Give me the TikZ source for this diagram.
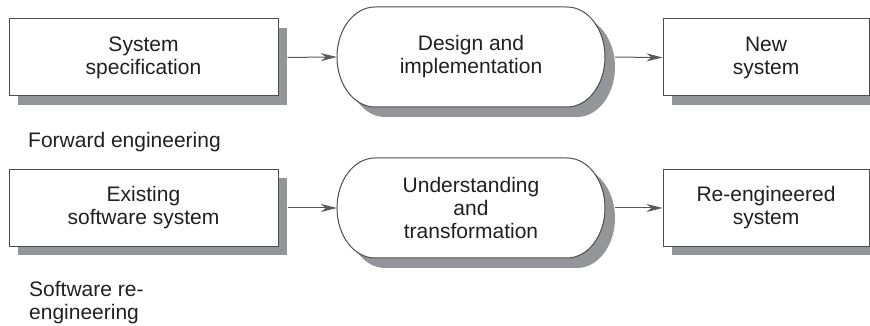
\documentclass[tikz,border=0pt]{standalone}
\usepackage{fontspec}
\setmainfont{Liberation Sans}
\usetikzlibrary{arrows.meta,shadows,backgrounds}
\definecolor{txt}{HTML}{231F20}
\definecolor{edge}{HTML}{4D4D4F}
\definecolor{shadowgray}{HTML}{939598}
\definecolor{arrowc}{HTML}{58595B}
\tikzset{
  boxnode/.style={draw=edge, line width=1pt, fill=white, inner sep=0pt,
    minimum height=77pt, align=center, text=txt,
    font=\fontsize{21}{23}\selectfont,
    drop shadow={shadow xshift=9pt, shadow yshift=-9pt, fill=shadowgray, opacity=1}},
  pilltext/.style={inner sep=0pt, minimum width=268pt, minimum height=100pt,
    align=center, text=txt, font=\fontsize{21}{23}\selectfont},
  pill/.style={insert path={++(-96,50) -- ++(192,0)
    arc[start angle=90, end angle=-90, x radius=38, y radius=50]
    -- ++(-192,0)
    arc[start angle=270, end angle=90, x radius=38, y radius=50] -- cycle}},
  plain/.style={inner sep=0pt, text=txt, font=\fontsize{21}{23}\selectfont, align=left},
  flow/.style={draw=arrowc, line width=1pt,
    -{Stealth[length=16pt, width=8pt, inset=5pt]}}
}
\begin{document}
\begin{tikzpicture}[x=1pt, y=1pt]
  \useasboundingbox (0,0) rectangle (870,326);
  % row 1
  \node[boxnode, minimum width=269pt] (spec) at (143.5,268.5) {System\\specification};
  \node[pilltext] (design) at (471,269) {Design and\\implementation};
  \node[boxnode, minimum width=206pt] (new) at (766,268.5) {New\\system};
  % row 2
  \node[boxnode, minimum width=269pt] (exist) at (143.5,118) {Existing\\software system};
  \node[pilltext] (under) at (471,118) {Understanding\\and\\transformation};
  \node[boxnode, minimum width=206pt] (reeng) at (766,118) {Re-engineered\\system};
  \begin{scope}[on background layer]
    \fill[shadowgray] ([xshift=10pt, yshift=-10pt]design.center) [pill];
    \filldraw[fill=white, draw=edge, line width=1pt] (design.center) [pill];
    \fill[shadowgray] ([xshift=10pt, yshift=-10pt]under.center) [pill];
    \filldraw[fill=white, draw=edge, line width=1pt] (under.center) [pill];
  \end{scope}
  % labels
  \node[plain, anchor=base west] (fwd) at (28,178) {Forward engineering};
  \node[plain, anchor=base west] (swre1) at (29,29) {Software re-};
  \node[plain, anchor=base west] (swre2) at (29,6.5) {engineering};
  % connectors
  \draw[flow, shorten <=9pt] (spec.east) -- (design.west);
  \draw[flow, shorten <=10pt] (design.east) -- (new.west);
  \draw[flow, shorten <=9pt] (exist.east) -- (under.west);
  \draw[flow, shorten <=10pt] (under.east) -- (reeng.west);
\end{tikzpicture}
\end{document}
